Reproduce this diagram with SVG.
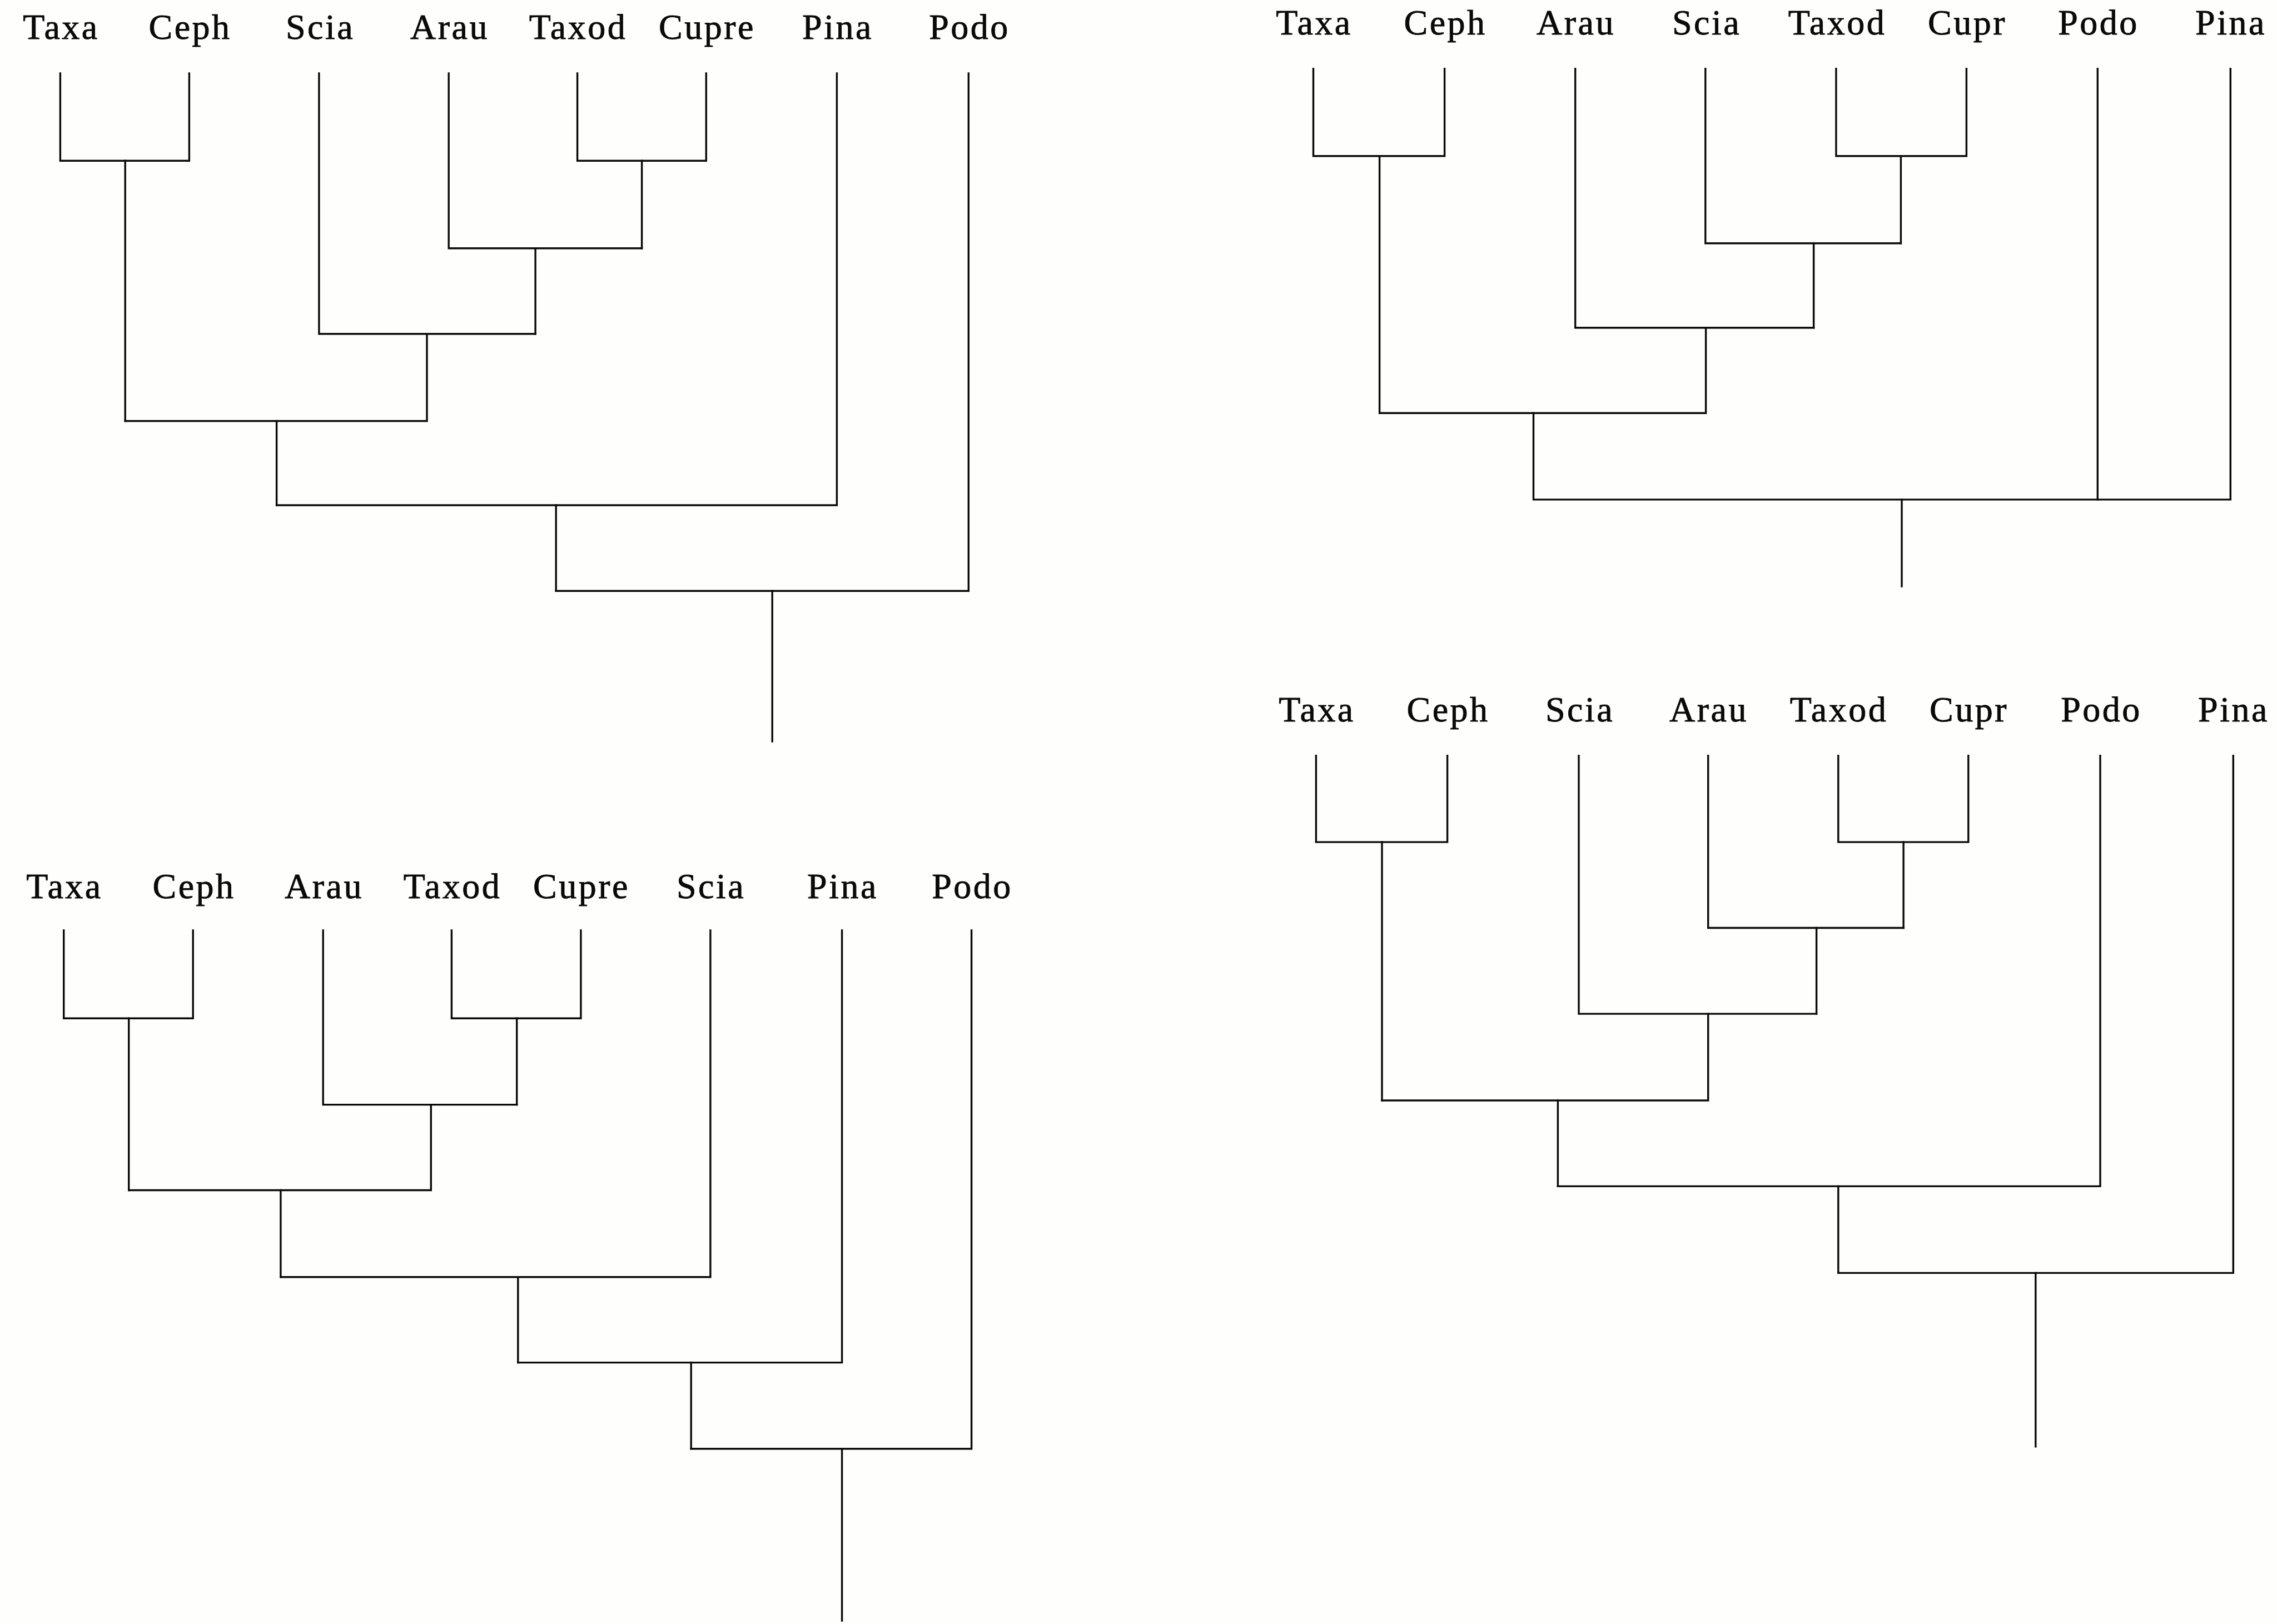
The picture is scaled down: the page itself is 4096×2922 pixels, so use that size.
<svg xmlns="http://www.w3.org/2000/svg" width="4096" height="2922" viewBox="0 0 4096 2922">
  <style>
    .bg { fill: #fefefc; }
    .lbl { font-family: "Liberation Serif", "DejaVu Serif", serif; font-size: 64px; letter-spacing: 3.5px; fill: #0a0a0a; stroke: #0a0a0a; stroke-width: 0.9; text-anchor: middle; }
    .br { fill: none; stroke: #0a0a0a; stroke-width: 3.4; stroke-linejoin: miter; stroke-linecap: square; }
  </style>
  <rect class="bg" x="0" y="0" width="4096" height="2922"/>

  <!-- Tree A (top left) -->
  <g id="treeA">
    <g id="A-taxa"><text class="lbl" x="110" y="70">Taxa</text></g>
    <g id="A-ceph"><text class="lbl" x="342" y="70">Ceph</text></g>
    <g id="A-scia"><text class="lbl" x="576" y="70">Scia</text></g>
    <g id="A-arau"><text class="lbl" x="809" y="70">Arau</text></g>
    <g id="A-taxod"><text class="lbl" x="1040" y="70">Taxod</text></g>
    <g id="A-cupre"><text class="lbl" x="1272" y="70">Cupre</text></g>
    <g id="A-pina"><text class="lbl" x="1507" y="70">Pina</text></g>
    <g id="A-podo"><text class="lbl" x="1744" y="70">Podo</text></g>
    <g id="A-connectors" class="br">
      <path d="M108.4,132 V289.2 H340.4 V132"/>
      <path d="M225.2,289.2 V757.5"/>
      <path d="M1038.6,132 V289.2 H1270.3 V132"/>
      <path d="M1154.6,289.2 V446.7"/>
      <path d="M807.2,132 V446.7 H1154.6"/>
      <path d="M963.1,446.7 V600.8"/>
      <path d="M573.9,132 V600.8 H963.1"/>
      <path d="M768,600.8 V757.5 H225.2"/>
      <path d="M497.6,757.5 V909"/>
      <path d="M1505.4,132 V909 H497.6"/>
      <path d="M1000.2,909 V1063.2"/>
      <path d="M1742.3,132 V1063.2 H1000.2"/>
      <path d="M1389.2,1063.2 V1334"/>
    </g>
  </g>

  <!-- Tree B (top right) -->
  <g id="treeB">
    <g id="B-taxa"><text class="lbl" x="2364" y="62">Taxa</text></g>
    <g id="B-ceph"><text class="lbl" x="2600" y="62">Ceph</text></g>
    <g id="B-arau"><text class="lbl" x="2835" y="62">Arau</text></g>
    <g id="B-scia"><text class="lbl" x="3070" y="62">Scia</text></g>
    <g id="B-taxod"><text class="lbl" x="3305" y="62">Taxod</text></g>
    <g id="B-cupr"><text class="lbl" x="3539" y="62">Cupr</text></g>
    <g id="B-podo"><text class="lbl" x="3775" y="62">Podo</text></g>
    <g id="B-pina"><text class="lbl" x="4013" y="62">Pina</text></g>
    <g id="B-connectors" class="br">
      <path d="M2362.5,123.6 V280.8 H2598.6 V123.6"/>
      <path d="M2481.6,280.8 V743.2"/>
      <path d="M3302.9,123.6 V280.8 H3537.4 V123.6"/>
      <path d="M3419.4,280.8 V437.8"/>
      <path d="M3067.8,123.6 V437.8 H3419.4"/>
      <path d="M3262.6,437.8 V589.8"/>
      <path d="M2833.7,123.6 V589.8 H3262.6"/>
      <path d="M3068.6,589.8 V743.2 H2481.6"/>
      <path d="M2758.5,743.2 V898.9 H4012.3 V123.6"/>
      <path d="M3773.3,123.6 V898.9"/>
      <path d="M3421,898.9 V1055"/>
    </g>
  </g>

  <!-- Tree C (bottom left) -->
  <g id="treeC">
    <g id="C-taxa"><text class="lbl" x="116" y="1616">Taxa</text></g>
    <g id="C-ceph"><text class="lbl" x="349" y="1616">Ceph</text></g>
    <g id="C-arau"><text class="lbl" x="583" y="1616">Arau</text></g>
    <g id="C-taxod"><text class="lbl" x="814" y="1616">Taxod</text></g>
    <g id="C-cupre"><text class="lbl" x="1046" y="1616">Cupre</text></g>
    <g id="C-scia"><text class="lbl" x="1279" y="1616">Scia</text></g>
    <g id="C-pina"><text class="lbl" x="1516" y="1616">Pina</text></g>
    <g id="C-podo"><text class="lbl" x="1749" y="1616">Podo</text></g>
    <g id="C-connectors" class="br">
      <path d="M114.7,1673.9 V1832.2 H347.2 V1673.9"/>
      <path d="M231.7,1832.2 V2141.5"/>
      <path d="M812.4,1673.9 V1832.2 H1044.9 V1673.9"/>
      <path d="M929.7,1832.2 V1987.6"/>
      <path d="M581.2,1673.9 V1987.6 H929.7"/>
      <path d="M775.3,1987.6 V2141.5 H231.7"/>
      <path d="M504.9,2141.5 V2297.7"/>
      <path d="M1277.9,1673.9 V2297.7 H504.9"/>
      <path d="M931.8,2297.7 V2451.6"/>
      <path d="M1514.6,1673.9 V2451.6 H931.8"/>
      <path d="M1243.2,2451.6 V2606.7"/>
      <path d="M1747.6,1673.9 V2606.7 H1243.2"/>
      <path d="M1514.6,2606.7 V2916"/>
    </g>
  </g>

  <!-- Tree D (bottom right) -->
  <g id="treeD">
    <g id="D-taxa"><text class="lbl" x="2369" y="1298">Taxa</text></g>
    <g id="D-ceph"><text class="lbl" x="2605" y="1298">Ceph</text></g>
    <g id="D-scia"><text class="lbl" x="2842" y="1298">Scia</text></g>
    <g id="D-arau"><text class="lbl" x="3074" y="1298">Arau</text></g>
    <g id="D-taxod"><text class="lbl" x="3308" y="1298">Taxod</text></g>
    <g id="D-cupr"><text class="lbl" x="3542" y="1298">Cupr</text></g>
    <g id="D-podo"><text class="lbl" x="3780" y="1298">Podo</text></g>
    <g id="D-pina"><text class="lbl" x="4018" y="1298">Pina</text></g>
    <g id="D-connectors" class="br">
      <path d="M2367.4,1359.7 V1515.1 H2603.6 V1359.7"/>
      <path d="M2486,1515.1 V1980"/>
      <path d="M3306.8,1359.7 V1515.1 H3540.8 V1359.7"/>
      <path d="M3424.1,1515.1 V1669.5"/>
      <path d="M3072.7,1359.7 V1669.5 H3424.1"/>
      <path d="M3267.6,1669.5 V1824.1"/>
      <path d="M2840,1359.7 V1824.1 H3267.6"/>
      <path d="M3072.7,1824.1 V1980 H2486"/>
      <path d="M2802.4,1980 V2134.4"/>
      <path d="M3778,1359.7 V2134.4 H2802.4"/>
      <path d="M3306.8,2134.4 V2290.4"/>
      <path d="M4017.3,1359.7 V2290.4 H3306.8"/>
      <path d="M3661.8,2290.4 V2602.8"/>
    </g>
  </g>
</svg>
